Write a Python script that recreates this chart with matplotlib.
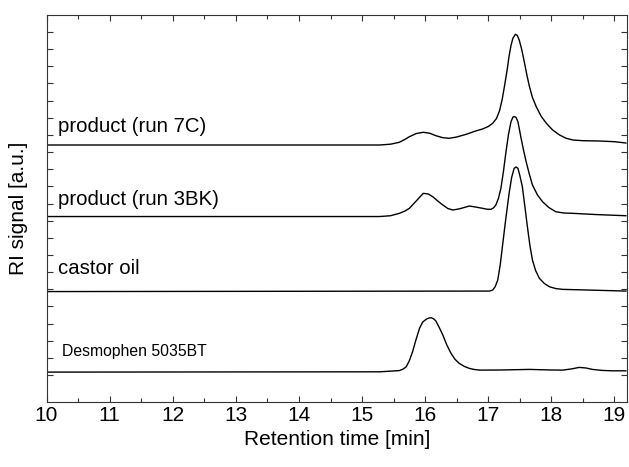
import numpy as np
import matplotlib
matplotlib.use("Agg")
import matplotlib.pyplot as plt
from matplotlib.ticker import MultipleLocator, FixedLocator

plt.rcParams['font.family'] = ['Liberation Sans', 'DejaVu Sans']

# retention time [min] / RI signal [a.u.] (traces already stacked with offsets)
run7c_x = [10.00, 15.28, 15.45, 15.59, 15.67, 15.75, 15.86, 15.97, 16.07, 16.17, 16.28, 16.38,
           16.50, 16.65, 16.80, 16.91, 17.00, 17.07, 17.13, 17.18, 17.22, 17.26, 17.30, 17.33,
           17.36, 17.39, 17.43, 17.46, 17.49, 17.53, 17.57, 17.61, 17.65, 17.70, 17.76, 17.84,
           17.92, 18.02, 18.13, 18.23, 18.34, 18.50, 18.76, 19.00, 19.18]
run7c_y = [256.5, 256.5, 257.3, 259.2, 261.8, 264.8, 268.0, 269.2, 268.3, 265.8, 263.8, 263.2,
           264.5, 267.2, 270.5, 272.5, 275.0, 278.2, 283.0, 291.0, 302.0, 316.5, 332.0, 345.5,
           356.0, 363.2, 367.2, 366.0, 361.5, 352.0, 339.8, 327.0, 315.5, 304.0, 294.8, 285.0,
           278.2, 271.5, 266.5, 263.3, 261.5, 260.8, 260.5, 259.8, 258.5]

run3bk_x = [10.00, 15.28, 15.45, 15.59, 15.68, 15.75, 15.85, 15.97, 16.05, 16.12, 16.20, 16.28,
            16.36, 16.44, 16.55, 16.70, 16.80, 16.91, 16.98, 17.04, 17.08, 17.12, 17.16, 17.20,
            17.24, 17.28, 17.32, 17.36, 17.39, 17.41, 17.44, 17.47, 17.52, 17.56, 17.60, 17.65,
            17.70, 17.78, 17.86, 17.96, 18.07, 18.20, 18.34, 18.70, 19.18]
run3bk_y = [185.0, 185.0, 185.8, 188.2, 190.5, 193.2, 200.0, 208.2, 207.5, 204.8, 200.5, 196.5,
            193.0, 191.5, 192.8, 195.5, 194.5, 193.2, 192.3, 192.2, 193.5, 196.5, 203.0, 213.2,
            230.0, 249.5, 267.0, 279.8, 284.3, 285.0, 284.0, 279.8, 263.2, 251.0, 239.8, 227.5,
            216.5, 206.5, 199.8, 194.0, 189.8, 188.5, 188.2, 187.0, 185.8]

castor_x = [10.00, 17.02, 17.07, 17.11, 17.15, 17.19, 17.23, 17.28, 17.33, 17.37, 17.41, 17.44,
            17.47, 17.50, 17.54, 17.58, 17.62, 17.66, 17.70, 17.75, 17.81, 17.89, 17.97, 18.07,
            18.18, 18.60, 19.18]
castor_y = [110.0, 110.5, 111.5, 115.0, 121.5, 137.0, 158.2, 184.0, 208.2, 224.0, 233.2, 234.5,
            233.2, 226.0, 214.8, 195.0, 174.8, 156.0, 141.5, 131.0, 123.2, 118.0, 114.8, 113.0,
            112.2, 111.5, 110.5]

desmo_x = [10.00, 15.28, 15.59, 15.65, 15.70, 15.75, 15.80, 15.85, 15.91, 15.96, 16.02, 16.06,
           16.10, 16.14, 16.17, 16.22, 16.28, 16.34, 16.41, 16.47, 16.54, 16.62, 16.70, 16.78,
           16.86, 17.20, 17.65, 18.00, 18.18, 18.32, 18.44, 18.55, 18.65, 18.80, 18.97, 19.18]
desmo_y = [29.5, 29.8, 31.0, 32.5, 34.8, 41.0, 49.8, 61.0, 73.2, 79.5, 82.5, 83.6,
           83.8, 82.5, 80.5, 74.5, 66.5, 57.0, 48.2, 42.5, 38.2, 35.2, 33.2, 32.1,
           31.5, 31.6, 32.2, 31.6, 31.5, 32.7, 34.2, 33.6, 32.2, 31.2, 30.8, 30.8]

fig = plt.figure(figsize=(6.29, 4.67), dpi=100)
ax = fig.add_axes([0.074, 0.140, 0.923, 0.828])

for xs, ys in [(run7c_x, run7c_y), (run3bk_x, run3bk_y), (castor_x, castor_y), (desmo_x, desmo_y)]:
    ax.plot(xs, ys, color='black', lw=1.0)

# labels above each trace
ax.text(10.18, 274.5, "product (run 7C)", fontsize=14.7, va='center', ha='left')
ax.text(10.18, 202.5, "product (run 3BK)", fontsize=14.7, va='center', ha='left')
ax.text(10.18, 133.5, "castor oil", fontsize=14.7, va='center', ha='left')
ax.text(10.25, 50.5, "Desmophen 5035BT", fontsize=11.3, va='center', ha='left')

ax.set_xlim(10, 19.2)
ax.set_ylim(0, 386.5)
ax.xaxis.set_major_locator(MultipleLocator(1))
ax.xaxis.set_minor_locator(MultipleLocator(0.5))
ax.yaxis.set_major_locator(FixedLocator(np.linspace(26.5, 369.5, 21)))
ax.set_yticklabels([])
ax.tick_params(which='both', direction='in', top=True, right=True, width=0.8, color='#333333')
ax.tick_params(which='major', length=4, labelsize=15)
ax.tick_params(which='minor', length=3)
for s in ax.spines.values():
    s.set_linewidth(0.8)
    s.set_color('#333333')

ax.set_xlabel("Retention time [min]", fontsize=15, labelpad=3)
ax.set_ylabel("RI signal [a.u.]", fontsize=15, labelpad=10)

fig.savefig("out.png", dpi=100)
